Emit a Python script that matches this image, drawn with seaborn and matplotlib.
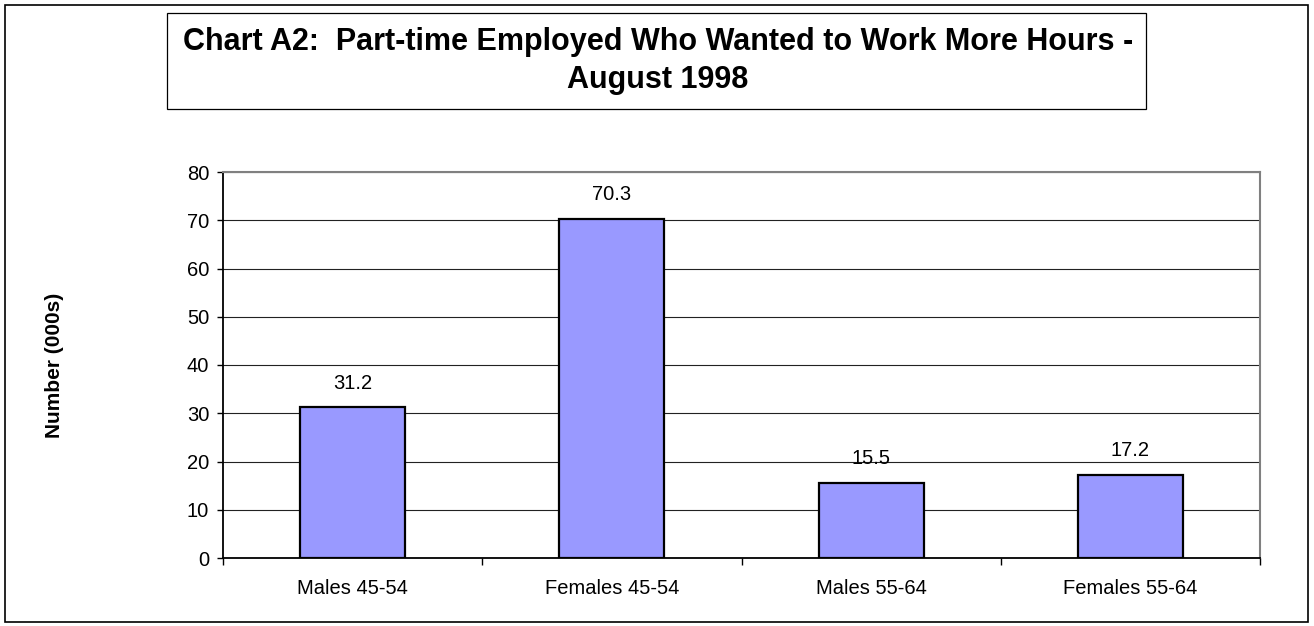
import matplotlib
matplotlib.use("Agg")
import matplotlib.pyplot as plt
import seaborn as sns
import pandas as pd
from matplotlib.patches import Rectangle

categories = ["Males 45-54", "Females 45-54", "Males 55-64", "Females 55-64"]
values = [31.2, 70.3, 15.5, 17.2]
yticks = [0, 10, 20, 30, 40, 50, 60, 70, 80]

sns.set_theme(style="white")
plt.rcParams['font.family'] = ['Liberation Sans', 'DejaVu Sans']
plt.rcParams['text.color'] = 'black'
plt.rcParams['axes.labelcolor'] = 'black'
plt.rcParams['xtick.color'] = 'black'
plt.rcParams['ytick.color'] = 'black'

df = pd.DataFrame({"cat": categories, "val": values})

W, H = 1314, 626
fig = plt.figure(figsize=(W / 100, H / 100), dpi=100)
fig.patch.set_facecolor("white")

# outer border
fig.patches.append(Rectangle((4.5 / W, 4.5 / H), (1307.5 - 4.5) / W, (621.5 - 4.5) / H,
                             transform=fig.transFigure, fill=False, edgecolor="black", linewidth=1.2))
# title box
fig.patches.append(Rectangle((167 / W, 1 - 108.5 / H), (1146 - 167) / W, (108.5 - 13.5) / H,
                             transform=fig.transFigure, fill=False, edgecolor="black", linewidth=0.9))
fig.text(658 / W, 1 - 50 / H, "Chart A2:  Part-time Employed Who Wanted to Work More Hours -",
         ha="center", va="baseline", fontsize=22, fontweight="bold", color="black")
fig.text(658 / W, 1 - 88 / H, "August 1998", ha="center", va="baseline",
         fontsize=22, fontweight="bold", color="black")

ax = fig.add_axes([223 / W, 1 - 558 / H, (1260 - 223) / W, (558 - 172) / H])
sns.barplot(data=df, x="cat", y="val", ax=ax, color="#9999FF", width=0.405,
            edgecolor="black", linewidth=1.6, saturation=1)

ax.set_ylim(0, 80)
ax.set_xlim(-0.5, 3.5)
ax.set_yticks(yticks)
ax.yaxis.grid(True, color="#222222", linewidth=0.8)
ax.set_axisbelow(True)
for s in ["top", "right"]:
    ax.spines[s].set_color("#808080")
    ax.spines[s].set_linewidth(1.5)
ax.spines["left"].set_color("black")
ax.spines["left"].set_linewidth(1.3)
ax.spines["bottom"].set_color("black")
ax.spines["bottom"].set_linewidth(1.3)

ax.set_xticks([0, 1, 2, 3])
ax.set_xticklabels(categories, fontsize=14.5)
ax.tick_params(axis="x", length=0, pad=15)
ax.tick_params(axis="y", labelsize=14.5, length=4.5, width=1, color="black", left=True,
               direction="out", pad=5.5)
# category boundary ticks
ax.set_xticks([-0.5, 0.5, 1.5, 2.5, 3.5], minor=True)
ax.tick_params(axis="x", which="minor", length=5, width=1, color="black", bottom=True, direction="out")

ax.set_xlabel("")
ax.set_ylabel("Number (000s)", fontsize=15, fontweight="bold", labelpad=0)
ax.yaxis.set_label_coords((64 - 223) / (1260 - 223), 0.5)

for i, v in enumerate(values):
    ax.annotate(f"{v}", (i, v), xytext=(0, 13.5), textcoords="offset points",
                ha="center", va="baseline", fontsize=14.5, color="black")

fig.savefig("out.png", dpi=100, facecolor="white")
